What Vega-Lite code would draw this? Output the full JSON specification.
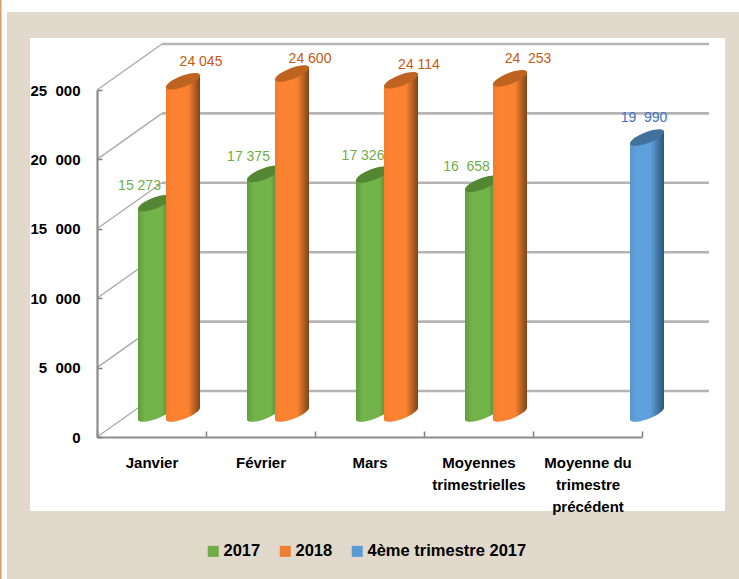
{"$schema":"https://vega.github.io/schema/vega-lite/v6.json","width":695,"height":473,"autosize":"none","padding":{"left":30,"top":38,"right":14,"bottom":68},"background":"#ffffff","view":{"fill":null,"stroke":null},"config":{"font":"Liberation Sans"},"datasets":{"levels":[{"value":0},{"value":5000},{"value":10000},{"value":15000},{"value":20000},{"value":25000}],"bars":[{"cat":"Janvier","series":"2017","value":15273,"label":"15 273"},{"cat":"Février","series":"2017","value":17375,"label":"17 375"},{"cat":"Mars","series":"2017","value":17326,"label":"17 326"},{"cat":"Moyennes trimestrielles","series":"2017","value":16658,"label":"16\u00a0\u00a0658"},{"cat":"Janvier","series":"2018","value":24045,"label":"24 045"},{"cat":"Février","series":"2018","value":24600,"label":"24 600"},{"cat":"Mars","series":"2018","value":24114,"label":"24 114"},{"cat":"Moyennes trimestrielles","series":"2018","value":24253,"label":"24\u00a0\u00a0253"},{"cat":"Moyenne du trimestre précédent","series":"4ème trimestre 2017","value":19990,"label":"19\u00a0\u00a0990"}]},"resolve":{"scale":{"x":"independent"},"axis":{"x":"independent"}},"layer":[{"data":{"name":"levels"},"encoding":{"x":{"datum":0,"type":"quantitative","scale":{"domain":[0,1],"range":[67,612]},"axis":null},"y":{"field":"value","type":"quantitative","scale":{"domain":[0,25000],"range":[399,52],"nice":false},"title":null}},"layer":[{"transform":[{"filter":"datum.value==0"}],"mark":{"type":"rect","color":"#e0d9cc","xOffset":-90,"x2Offset":97,"yOffset":-78,"y2Offset":142},"encoding":{"x2":{"datum":1},"y":{"datum":25000,"type":"quantitative"},"y2":{"datum":0}}},{"transform":[{"filter":"datum.value==0"}],"mark":{"type":"rect","color":"#dd9a6f","xOffset":-97,"x2Offset":-95.5,"yOffset":-90,"y2Offset":142},"encoding":{"x2":{"datum":0},"y":{"datum":25000,"type":"quantitative"},"y2":{"datum":0}}},{"transform":[{"filter":"datum.value==0"}],"mark":{"type":"rect","color":"#ffffff","xOffset":-67,"x2Offset":83,"yOffset":-52,"y2Offset":74},"encoding":{"x2":{"datum":1},"y":{"datum":25000,"type":"quantitative"},"y2":{"datum":0}}},{"mark":{"type":"rule","color":"#b4b4b4","strokeWidth":2.6,"xOffset":65,"x2Offset":67,"yOffset":-46,"y2Offset":-46},"encoding":{"x2":{"datum":1},"y2":{"field":"value"}}},{"mark":{"type":"rule","color":"#ababab","strokeWidth":1.4,"y2Offset":-46,"x2Offset":65},"encoding":{"x2":{"datum":0},"y2":{"field":"value"}}}]},{"data":{"name":"bars"},"encoding":{"x":{"field":"cat","type":"nominal","scale":{"domain":["Janvier","Février","Mars","Moyennes trimestrielles","Moyenne du trimestre précédent"],"range":[67,612],"paddingInner":0,"paddingOuter":0},"axis":{"title":null,"zindex":1,"offset":-74,"domainColor":"#8c8c8c","domainWidth":2.2,"tickColor":"#808080","tickWidth":1.5,"tickSize":-6,"tickBand":"extent","labelAngle":0,"labelFont":"Liberation Sans","labelFontWeight":"bold","labelFontSize":15,"labelColor":"#000000","labelPadding":24,"labelLineHeight":22,"labelBaseline":"top","labelExpr":"datum.label=='Moyennes trimestrielles'?['Moyennes','trimestrielles']:datum.label=='Moyenne du trimestre précédent'?['Moyenne du','trimestre','précédent']:datum.label"}},"xOffset":{"field":"series","type":"nominal","scale":{"domain":["2017","2018","4ème trimestre 2017"],"range":[44,128]}},"y":{"field":"value","type":"quantitative","stack":null,"scale":{"domain":[0,25000],"range":[399,52],"nice":false},"title":null,"axis":{"title":null,"zindex":1,"offset":-67,"values":[0,5000,10000,15000,20000,25000],"grid":false,"domainColor":"#8c8c8c","domainWidth":2.2,"tickColor":"#808080","tickWidth":1.5,"tickSize":-5,"labelFont":"Liberation Sans","labelFontWeight":"bold","labelFontSize":15,"labelColor":"#000000","labelPadding":22,"labelExpr":"replace(format(datum.value,','),',','\u00a0\u00a0')"}}},"layer":[{"mark":{"type":"bar","width":34,"yOffset":-15.5,"y2Offset":-30},"encoding":{"y2":{"datum":0},"color":{"field":"series","type":"nominal","scale":{"domain":["2017","2018","4ème trimestre 2017"],"range":["#70ad47","#ed7d31","#5b9bd5"]},"legend":{"orient":"none","legendX":175,"legendY":505,"direction":"horizontal","title":null,"symbolType":"square","symbolSize":121,"symbolStrokeWidth":0,"labelFont":"Liberation Sans","labelFontSize":16.5,"labelFontWeight":"bold","labelColor":"#000000","labelOffset":2,"labelLimit":300,"columnPadding":16}}}},{"transform":[{"filter":"datum.series=='2017'"}],"layer":[{"mark":{"type":"point","filled":true,"opacity":1,"size":4,"strokeWidth":0,"yOffset":-23.5,"shape":"M-17,-8 L17,-8 L17,-6.5 A18.2,5.5,-21,0,1,-17,6.5 Z","color":{"gradient":"linear","x1":0,"x2":1,"y1":0,"y2":0,"stops":[{"offset":0,"color":"#639c3e"},{"offset":0.2,"color":"#72b34a"},{"offset":0.7,"color":"#72b34a"},{"offset":1,"color":"#44702a"}]}},"encoding":{"y":{"datum":0,"type":"quantitative"}}},{"mark":{"type":"bar","width":34,"yOffset":-15.5,"y2Offset":-30,"color":{"gradient":"linear","x1":0,"x2":1,"y1":0,"y2":0,"stops":[{"offset":0,"color":"#639c3e"},{"offset":0.2,"color":"#72b34a"},{"offset":0.7,"color":"#72b34a"},{"offset":1,"color":"#44702a"}]}},"encoding":{"y2":{"datum":0}}},{"mark":{"type":"point","filled":true,"opacity":1,"size":4,"strokeWidth":0,"yOffset":-22,"shape":"M-17,6.5 L17,-6.5 L17,8 L-17,8 Z","color":{"gradient":"linear","x1":0,"x2":1,"y1":0,"y2":0,"stops":[{"offset":0,"color":"#639c3e"},{"offset":0.2,"color":"#72b34a"},{"offset":0.7,"color":"#72b34a"},{"offset":1,"color":"#44702a"}]}}},{"mark":{"type":"point","filled":true,"opacity":1,"size":4,"strokeWidth":0,"yOffset":-22,"color":"#548734","shape":"M-17,6.5 A18.2,5.5,-21,0,1,17,-6.5 A18.2,5.5,-21,0,1,-17,6.5 Z"}},{"transform":[{"filter":"datum.cat!='Mars'"}],"mark":{"type":"text","font":"Liberation Sans","fontSize":14,"color":"#70ad47","dx":-15.5,"dy":-17,"yOffset":-22,"baseline":"middle","align":"center"},"encoding":{"text":{"field":"label"}}},{"transform":[{"filter":"datum.cat=='Mars'"}],"mark":{"type":"text","font":"Liberation Sans","fontSize":14,"color":"#70ad47","dx":-10,"dy":-19,"yOffset":-22,"baseline":"middle","align":"center"},"encoding":{"text":{"field":"label"}}}]},{"transform":[{"filter":"datum.series=='2018'"}],"layer":[{"mark":{"type":"point","filled":true,"opacity":1,"size":4,"strokeWidth":0,"yOffset":-23.5,"shape":"M-17,-8 L17,-8 L17,-6.5 A18.2,5.5,-21,0,1,-17,6.5 Z","color":{"gradient":"linear","x1":0,"x2":1,"y1":0,"y2":0,"stops":[{"offset":0,"color":"#f27c2d"},{"offset":0.15,"color":"#fb8230"},{"offset":0.65,"color":"#fb8230"},{"offset":1,"color":"#7c4517"}]}},"encoding":{"y":{"datum":0,"type":"quantitative"}}},{"mark":{"type":"bar","width":34,"yOffset":-15.5,"y2Offset":-30,"color":{"gradient":"linear","x1":0,"x2":1,"y1":0,"y2":0,"stops":[{"offset":0,"color":"#f27c2d"},{"offset":0.15,"color":"#fb8230"},{"offset":0.65,"color":"#fb8230"},{"offset":1,"color":"#7c4517"}]}},"encoding":{"y2":{"datum":0}}},{"mark":{"type":"point","filled":true,"opacity":1,"size":4,"strokeWidth":0,"yOffset":-22,"shape":"M-17,6.5 L17,-6.5 L17,8 L-17,8 Z","color":{"gradient":"linear","x1":0,"x2":1,"y1":0,"y2":0,"stops":[{"offset":0,"color":"#f27c2d"},{"offset":0.15,"color":"#fb8230"},{"offset":0.65,"color":"#fb8230"},{"offset":1,"color":"#7c4517"}]}}},{"mark":{"type":"point","filled":true,"opacity":1,"size":4,"strokeWidth":0,"yOffset":-22,"color":"#bf6320","shape":"M-17,6.5 A18.2,5.5,-21,0,1,17,-6.5 A18.2,5.5,-21,0,1,-17,6.5 Z"}},{"transform":[{"filter":"datum.cat=='Janvier'||datum.cat=='Moyennes trimestrielles'"}],"mark":{"type":"text","font":"Liberation Sans","fontSize":14,"color":"#c55a11","dx":18,"dy":-19,"yOffset":-22,"baseline":"middle","align":"center"},"encoding":{"text":{"field":"label"}}},{"transform":[{"filter":"datum.cat=='Février'||datum.cat=='Mars'"}],"mark":{"type":"text","font":"Liberation Sans","fontSize":14,"color":"#c55a11","dx":18,"dy":-15,"yOffset":-22,"baseline":"middle","align":"center"},"encoding":{"text":{"field":"label"}}}]},{"transform":[{"filter":"datum.series=='4ème trimestre 2017'"}],"layer":[{"mark":{"type":"point","filled":true,"opacity":1,"size":4,"strokeWidth":0,"yOffset":-23.5,"shape":"M-17,-8 L17,-8 L17,-6.5 A18.2,5.5,-21,0,1,-17,6.5 Z","color":{"gradient":"linear","x1":0,"x2":1,"y1":0,"y2":0,"stops":[{"offset":0,"color":"#5796cf"},{"offset":0.2,"color":"#5f9fdb"},{"offset":0.6,"color":"#5f9fdb"},{"offset":1,"color":"#2c5578"}]}},"encoding":{"y":{"datum":0,"type":"quantitative"}}},{"mark":{"type":"bar","width":34,"yOffset":-15.5,"y2Offset":-30,"color":{"gradient":"linear","x1":0,"x2":1,"y1":0,"y2":0,"stops":[{"offset":0,"color":"#5796cf"},{"offset":0.2,"color":"#5f9fdb"},{"offset":0.6,"color":"#5f9fdb"},{"offset":1,"color":"#2c5578"}]}},"encoding":{"y2":{"datum":0}}},{"mark":{"type":"point","filled":true,"opacity":1,"size":4,"strokeWidth":0,"yOffset":-22,"shape":"M-17,6.5 L17,-6.5 L17,8 L-17,8 Z","color":{"gradient":"linear","x1":0,"x2":1,"y1":0,"y2":0,"stops":[{"offset":0,"color":"#5796cf"},{"offset":0.2,"color":"#5f9fdb"},{"offset":0.6,"color":"#5f9fdb"},{"offset":1,"color":"#2c5578"}]}}},{"mark":{"type":"point","filled":true,"opacity":1,"size":4,"strokeWidth":0,"yOffset":-22,"color":"#41719c","shape":"M-17,6.5 A18.2,5.5,-21,0,1,17,-6.5 A18.2,5.5,-21,0,1,-17,6.5 Z"}},{"mark":{"type":"text","font":"Liberation Sans","fontSize":14,"color":"#4472c4","dx":-3,"dy":-20,"yOffset":-22,"baseline":"middle","align":"center"},"encoding":{"text":{"field":"label"}}}]}]}]}
